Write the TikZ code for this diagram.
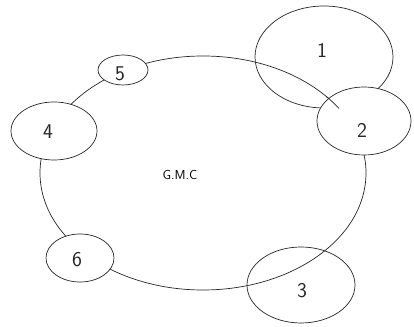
\documentclass[tikz,border=0pt]{standalone}
\usepackage{fontspec}
\usetikzlibrary{shapes.geometric}
\begin{document}
\begin{tikzpicture}[x=1pt,y=1pt,
  outline/.style={draw=black!85,line width=0.7pt},
  blob/.style={outline,ellipse,inner sep=0pt},
  solid blob/.style={blob,fill=white},
  digit/.style={font=\sffamily\fontsize{21}{21}\selectfont,text=black!85,inner sep=0pt},
  caption/.style={font=\sffamily\fontsize{13}{13}\selectfont}]
  \useasboundingbox (0,0) rectangle (414,326);
  % the main ring
  \node[outline,ellipse,minimum width=326,minimum height=234,inner sep=0pt] (ring) at (203,153) {};
  \node[caption] (gmc) at (180,151) {G.M.C};
  % members sitting on the ring
  \node[blob,minimum width=138,minimum height=102] (n1) at (324,269) {};
  \node[solid blob,minimum width=94,minimum height=68] (n2) at (364,205) {};
  \draw[outline] (ring.center) ++(41:163 and 117) arc[start angle=41,end angle=33.5,x radius=163,y radius=117];
  \node[blob,minimum width=108,minimum height=76] (n3) at (301,41) {};
  \node[solid blob,minimum width=86,minimum height=58] (n4) at (54,195) {};
  \node[solid blob,minimum width=50,minimum height=30] (n5) at (123,256) {};
  \node[solid blob,minimum width=68,minimum height=48] (n6) at (80,68) {};
  % their numbers
  \node[digit] (l1) at (322,276) {1};
  \node[digit] (l2) at (362,196) {2};
  \node[digit] (l3) at (302,35) {3};
  \node[digit] (l4) at (48,194) {4};
  \node[digit] (l5) at (120,252) {5};
  \node[digit] (l6) at (77,66) {6};
\end{tikzpicture}
\end{document}
